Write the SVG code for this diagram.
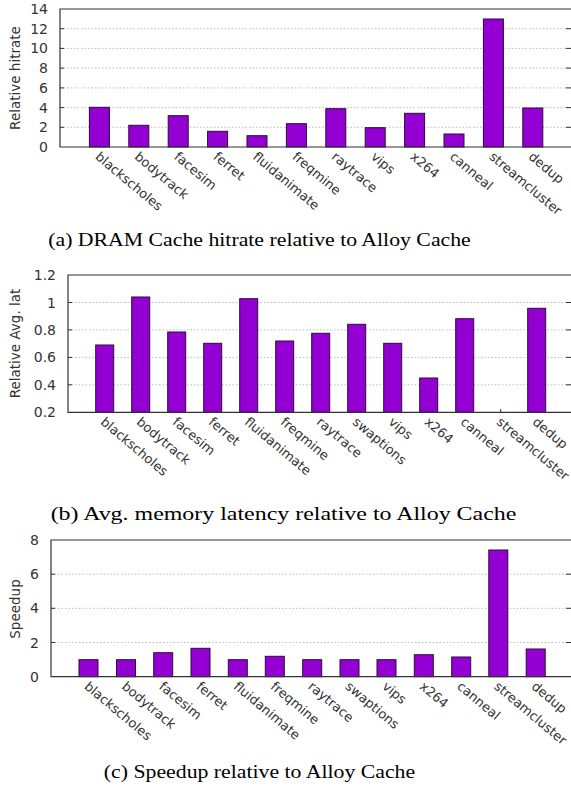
<svg xmlns="http://www.w3.org/2000/svg" width="571" height="790" viewBox="0 0 571 790">
<style>
.bg{fill:#ffffff}
.bar{fill:#9400d3;stroke:#2a0a3a;stroke-width:1}
.grid{stroke:#a8a8a8;stroke-width:0.8;stroke-dasharray:1.5,2;fill:none}
.axis{stroke:#333333;stroke-width:1.2;fill:none}
.tick{stroke:#333333;stroke-width:1;fill:none}
.yt{font-family:"DejaVu Sans",Verdana,sans-serif;font-size:14px;fill:#333333;text-anchor:end}
.yl{font-family:"DejaVu Sans",Verdana,sans-serif;font-size:13.5px;fill:#333333;text-anchor:middle}
.xl{font-family:"DejaVu Sans",Verdana,sans-serif;font-size:13px;fill:#333333;text-anchor:start}
.cap{font-family:"Liberation Serif","Times New Roman",serif;font-size:18px;fill:#000000;text-anchor:middle}
</style>
<rect class="bg" x="0" y="0" width="571" height="790"/>

<!-- Chart (a) -->
<g id="chart-a">
  <g id="grid-a">
    <line class="grid" x1="60" y1="127.3" x2="572" y2="127.3"/>
    <line class="grid" x1="60" y1="107.6" x2="572" y2="107.6"/>
    <line class="grid" x1="60" y1="87.9" x2="572" y2="87.9"/>
    <line class="grid" x1="60" y1="68.1" x2="572" y2="68.1"/>
    <line class="grid" x1="60" y1="48.4" x2="572" y2="48.4"/>
    <line class="grid" x1="60" y1="28.7" x2="572" y2="28.7"/>
  </g>
  <g id="ticks-a">
    <line class="tick" x1="60" y1="127.3" x2="64" y2="127.3"/>
    <line class="tick" x1="60" y1="107.6" x2="64" y2="107.6"/>
    <line class="tick" x1="60" y1="87.9" x2="64" y2="87.9"/>
    <line class="tick" x1="60" y1="68.1" x2="64" y2="68.1"/>
    <line class="tick" x1="60" y1="48.4" x2="64" y2="48.4"/>
    <line class="tick" x1="60" y1="28.7" x2="64" y2="28.7"/>
    <line class="tick" x1="566" y1="127.3" x2="571" y2="127.3"/>
    <line class="tick" x1="566" y1="107.6" x2="571" y2="107.6"/>
    <line class="tick" x1="566" y1="87.9" x2="571" y2="87.9"/>
    <line class="tick" x1="566" y1="68.1" x2="571" y2="68.1"/>
    <line class="tick" x1="566" y1="48.4" x2="571" y2="48.4"/>
    <line class="tick" x1="566" y1="28.7" x2="571" y2="28.7"/>
  </g>
  <g id="bars-a">
    <rect class="bar" x="89.4" y="107.3" width="20" height="39.7"/>
    <rect class="bar" x="128.8" y="125.3" width="20" height="21.7"/>
    <rect class="bar" x="168.2" y="115.7" width="20" height="31.3"/>
    <rect class="bar" x="207.6" y="131.3" width="20" height="15.7"/>
    <rect class="bar" x="247" y="135.7" width="20" height="11.3"/>
    <rect class="bar" x="286.4" y="123.7" width="20" height="23.3"/>
    <rect class="bar" x="325.8" y="108.7" width="20" height="38.3"/>
    <rect class="bar" x="365.2" y="127.7" width="20" height="19.3"/>
    <rect class="bar" x="404.6" y="113.3" width="20" height="33.7"/>
    <rect class="bar" x="444" y="134" width="20" height="13"/>
    <rect class="bar" x="483.4" y="19" width="20" height="128"/>
    <rect class="bar" x="522.8" y="108" width="20" height="39"/>
  </g>
  <polyline class="axis" points="572,9 60,9 60,147 572,147"/>
  <g id="yticks-a">
    <text class="yt" x="48" y="152">0</text>
    <text class="yt" x="48" y="132.3">2</text>
    <text class="yt" x="48" y="112.6">4</text>
    <text class="yt" x="48" y="92.9">6</text>
    <text class="yt" x="48" y="73.1">8</text>
    <text class="yt" x="48" y="53.4">10</text>
    <text class="yt" x="48" y="33.7">12</text>
    <text class="yt" x="48" y="14">14</text>
  </g>
  <text class="yl" transform="translate(20,78) rotate(-90)">Relative hitrate</text>
  <g id="xlabels-a">
    <text class="xl" transform="translate(94.4,158) rotate(40)">blackscholes</text>
    <text class="xl" transform="translate(133.8,158) rotate(40)">bodytrack</text>
    <text class="xl" transform="translate(173.2,158) rotate(40)">facesim</text>
    <text class="xl" transform="translate(212.6,158) rotate(40)">ferret</text>
    <text class="xl" transform="translate(252,158) rotate(40)">fluidanimate</text>
    <text class="xl" transform="translate(291.4,158) rotate(40)">freqmine</text>
    <text class="xl" transform="translate(330.8,158) rotate(40)">raytrace</text>
    <text class="xl" transform="translate(370.2,158) rotate(40)">vips</text>
    <text class="xl" transform="translate(409.6,158) rotate(40)">x264</text>
    <text class="xl" transform="translate(449,158) rotate(40)">canneal</text>
    <text class="xl" transform="translate(488.4,158) rotate(40)">streamcluster</text>
    <text class="xl" transform="translate(527.8,158) rotate(40)">dedup</text>
  </g>
  <text class="cap" transform="translate(259.5,246) scale(1.21,1)">(a) DRAM Cache hitrate relative to Alloy Cache</text>
</g>

<!-- Chart (b) -->
<g id="chart-b">
  <g id="grid-b">
    <line class="grid" x1="68" y1="384.8" x2="572" y2="384.8"/>
    <line class="grid" x1="68" y1="357.4" x2="572" y2="357.4"/>
    <line class="grid" x1="68" y1="329.9" x2="572" y2="329.9"/>
    <line class="grid" x1="68" y1="302.5" x2="572" y2="302.5"/>
  </g>
  <g id="ticks-b">
    <line class="tick" x1="68" y1="384.8" x2="72" y2="384.8"/>
    <line class="tick" x1="68" y1="357.4" x2="72" y2="357.4"/>
    <line class="tick" x1="68" y1="329.9" x2="72" y2="329.9"/>
    <line class="tick" x1="68" y1="302.5" x2="72" y2="302.5"/>
    <line class="tick" x1="566" y1="384.8" x2="571" y2="384.8"/>
    <line class="tick" x1="566" y1="357.4" x2="571" y2="357.4"/>
    <line class="tick" x1="566" y1="329.9" x2="571" y2="329.9"/>
    <line class="tick" x1="566" y1="302.5" x2="571" y2="302.5"/>
    <line class="tick" x1="500.7" y1="412.3" x2="500.7" y2="409"/>
  </g>
  <g id="bars-b">
    <rect class="bar" x="95.7" y="345" width="18" height="67.3"/>
    <rect class="bar" x="131.7" y="297" width="18" height="115.3"/>
    <rect class="bar" x="167.7" y="332" width="18" height="80.3"/>
    <rect class="bar" x="203.7" y="343.3" width="18" height="69"/>
    <rect class="bar" x="239.7" y="298.7" width="18" height="113.6"/>
    <rect class="bar" x="275.7" y="341" width="18" height="71.3"/>
    <rect class="bar" x="311.7" y="333.3" width="18" height="79"/>
    <rect class="bar" x="347.7" y="324.3" width="18" height="88"/>
    <rect class="bar" x="383.7" y="343.3" width="18" height="69"/>
    <rect class="bar" x="419.7" y="378" width="18" height="34.3"/>
    <rect class="bar" x="455.7" y="318.7" width="18" height="93.6"/>
    <rect class="bar" x="527.7" y="308.3" width="18" height="104"/>
  </g>
  <polyline class="axis" points="572,275 68,275 68,412.3 572,412.3"/>
  <g id="yticks-b">
    <text class="yt" x="56" y="417.3">0.2</text>
    <text class="yt" x="56" y="389.8">0.4</text>
    <text class="yt" x="56" y="362.4">0.6</text>
    <text class="yt" x="56" y="334.9">0.8</text>
    <text class="yt" x="56" y="307.5">1</text>
    <text class="yt" x="56" y="280">1.2</text>
  </g>
  <text class="yl" transform="translate(20,343.5) rotate(-90)">Relative Avg. lat</text>
  <g id="xlabels-b">
    <text class="xl" transform="translate(99.7,423.3) rotate(40)">blackscholes</text>
    <text class="xl" transform="translate(135.7,423.3) rotate(40)">bodytrack</text>
    <text class="xl" transform="translate(171.7,423.3) rotate(40)">facesim</text>
    <text class="xl" transform="translate(207.7,423.3) rotate(40)">ferret</text>
    <text class="xl" transform="translate(243.7,423.3) rotate(40)">fluidanimate</text>
    <text class="xl" transform="translate(279.7,423.3) rotate(40)">freqmine</text>
    <text class="xl" transform="translate(315.7,423.3) rotate(40)">raytrace</text>
    <text class="xl" transform="translate(351.7,423.3) rotate(40)">swaptions</text>
    <text class="xl" transform="translate(387.7,423.3) rotate(40)">vips</text>
    <text class="xl" transform="translate(423.7,423.3) rotate(40)">x264</text>
    <text class="xl" transform="translate(459.7,423.3) rotate(40)">canneal</text>
    <text class="xl" transform="translate(495.7,423.3) rotate(40)">streamcluster</text>
    <text class="xl" transform="translate(531.7,423.3) rotate(40)">dedup</text>
  </g>
  <text class="cap" transform="translate(283.5,520) scale(1.33,1)">(b) Avg. memory latency relative to Alloy Cache</text>
</g>

<!-- Chart (c) -->
<g id="chart-c">
  <g id="grid-c">
    <line class="grid" x1="51" y1="642.5" x2="572" y2="642.5"/>
    <line class="grid" x1="51" y1="608.3" x2="572" y2="608.3"/>
    <line class="grid" x1="51" y1="574.2" x2="572" y2="574.2"/>
  </g>
  <g id="ticks-c">
    <line class="tick" x1="51" y1="642.5" x2="55" y2="642.5"/>
    <line class="tick" x1="51" y1="608.3" x2="55" y2="608.3"/>
    <line class="tick" x1="51" y1="574.2" x2="55" y2="574.2"/>
    <line class="tick" x1="566" y1="642.5" x2="571" y2="642.5"/>
    <line class="tick" x1="566" y1="608.3" x2="571" y2="608.3"/>
    <line class="tick" x1="566" y1="574.2" x2="571" y2="574.2"/>
  </g>
  <g id="bars-c">
    <rect class="bar" x="79" y="659.7" width="19" height="17"/>
    <rect class="bar" x="116.5" y="659.7" width="19" height="17"/>
    <rect class="bar" x="153.7" y="652.7" width="19" height="24"/>
    <rect class="bar" x="191" y="648.3" width="19" height="28.4"/>
    <rect class="bar" x="228.3" y="659.7" width="19" height="17"/>
    <rect class="bar" x="265.3" y="656.3" width="19" height="20.4"/>
    <rect class="bar" x="302.7" y="659.7" width="19" height="17"/>
    <rect class="bar" x="340" y="659.7" width="19" height="17"/>
    <rect class="bar" x="377" y="659.7" width="19" height="17"/>
    <rect class="bar" x="414.3" y="654.7" width="19" height="22"/>
    <rect class="bar" x="451.7" y="657" width="19" height="19.7"/>
    <rect class="bar" x="488.8" y="550" width="19" height="126.7"/>
    <rect class="bar" x="526.2" y="649" width="19" height="27.7"/>
  </g>
  <polyline class="axis" points="572,540 51,540 51,676.7 572,676.7"/>
  <g id="yticks-c">
    <text class="yt" x="39" y="681.7">0</text>
    <text class="yt" x="39" y="647.5">2</text>
    <text class="yt" x="39" y="613.3">4</text>
    <text class="yt" x="39" y="579.2">6</text>
    <text class="yt" x="39" y="545">8</text>
  </g>
  <text class="yl" transform="translate(20,609) rotate(-90)">Speedup</text>
  <g id="xlabels-c">
    <text class="xl" transform="translate(83.5,687.7) rotate(40)">blackscholes</text>
    <text class="xl" transform="translate(121,687.7) rotate(40)">bodytrack</text>
    <text class="xl" transform="translate(158.2,687.7) rotate(40)">facesim</text>
    <text class="xl" transform="translate(195.5,687.7) rotate(40)">ferret</text>
    <text class="xl" transform="translate(232.8,687.7) rotate(40)">fluidanimate</text>
    <text class="xl" transform="translate(269.8,687.7) rotate(40)">freqmine</text>
    <text class="xl" transform="translate(307.2,687.7) rotate(40)">raytrace</text>
    <text class="xl" transform="translate(344.5,687.7) rotate(40)">swaptions</text>
    <text class="xl" transform="translate(381.5,687.7) rotate(40)">vips</text>
    <text class="xl" transform="translate(418.8,687.7) rotate(40)">x264</text>
    <text class="xl" transform="translate(456.2,687.7) rotate(40)">canneal</text>
    <text class="xl" transform="translate(493.3,687.7) rotate(40)">streamcluster</text>
    <text class="xl" transform="translate(530.7,687.7) rotate(40)">dedup</text>
  </g>
  <text class="cap" transform="translate(259.5,778) scale(1.21,1)">(c) Speedup relative to Alloy Cache</text>
</g>
</svg>
